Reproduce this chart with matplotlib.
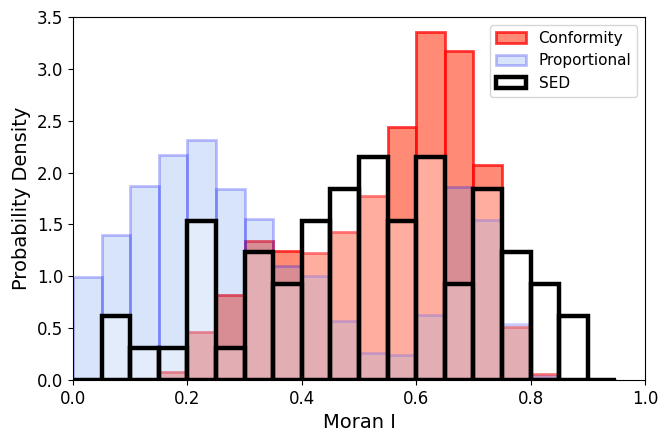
import numpy as np
import matplotlib
matplotlib.use("Agg")
import matplotlib.pyplot as plt

bin_edges = [round(0.05 * i, 2) for i in range(20)]  # 0.00 .. 0.95

conformity = [0.0, 0.0, 0.016, 0.08, 0.46, 0.82, 1.34, 1.24, 1.23, 1.43,
              1.77, 2.44, 3.35, 3.17, 2.07, 0.51, 0.06, 0.0, 0.0]
proportional = [0.99, 1.40, 1.87, 2.17, 2.31, 1.84, 1.556, 1.10, 1.0, 0.57,
                0.264, 0.24, 0.628, 1.858, 1.546, 0.538, 0.04, 0.0, 0.0]
sed = [0.0, 0.615, 0.308, 0.308, 1.538, 0.308, 1.231, 0.923, 1.538, 1.846,
       2.154, 1.538, 2.154, 0.923, 1.846, 1.231, 0.923, 0.615, 0.0]

labels = ["Conformity", "Proportional", "SED"]
xlabel = "Moran I"
ylabel = "Probability Density"

fig = plt.figure(figsize=(6.63, 4.33), dpi=100)
ax = fig.add_axes([0.110, 0.122, 0.863, 0.839])

left = np.array(bin_edges[:-1]) + 0.025
ax.hist(left, bins=bin_edges, weights=conformity, color="tomato",
        edgecolor="red", alpha=0.75, linewidth=2, label=labels[0])
ax.hist(left, bins=bin_edges, weights=proportional, color="cornflowerblue",
        edgecolor="blue", alpha=0.25, linewidth=2, label=labels[1])
ax.hist(left, bins=bin_edges, weights=sed, facecolor=(1, 1, 1, 0.3),
        edgecolor="black", linewidth=3.2, label=labels[2])

ax.set_xlim(0, 1.0)
ax.set_ylim(0, 3.5)
ax.set_xticks(np.arange(0, 1.01, 0.2))
ax.set_yticks(np.arange(0, 3.51, 0.5))
ax.tick_params(labelsize=12)
ax.set_xlabel(xlabel, fontsize=14)
ax.set_ylabel(ylabel, fontsize=14)
ax.legend(loc="upper right", fontsize=11)

fig.savefig("out.png", dpi=100)
